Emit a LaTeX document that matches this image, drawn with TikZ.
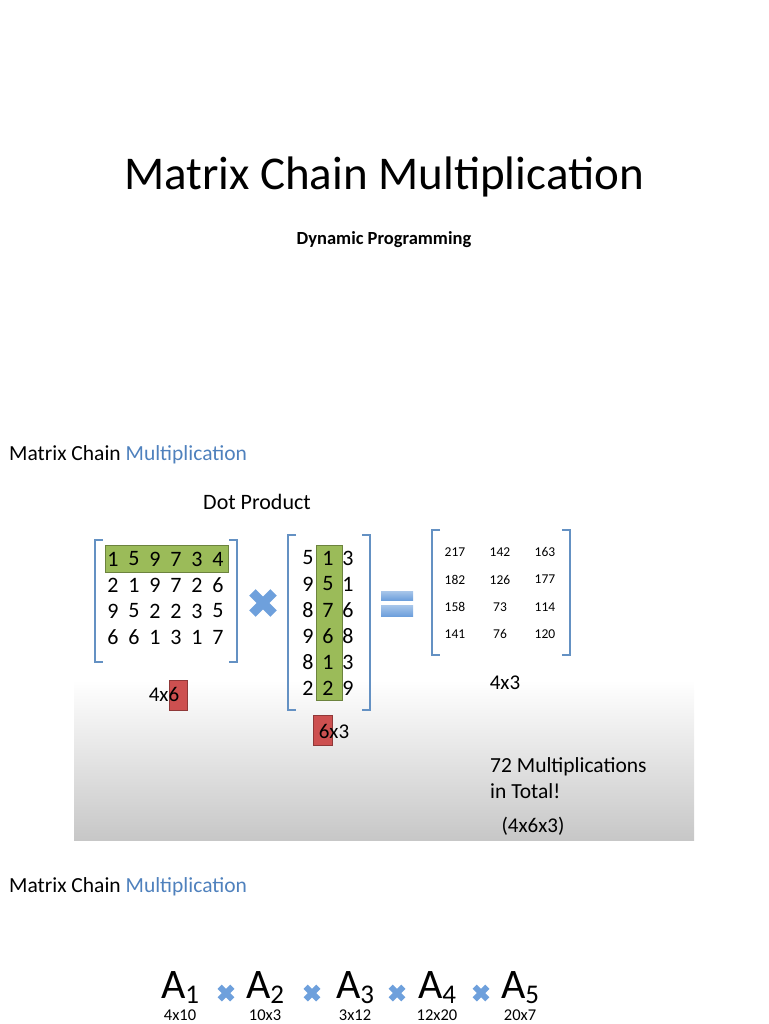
\documentclass[tikz,border=0pt]{standalone}
\usepackage{fontspec}
\setmainfont{Carlito}
\usepackage{tikz}
\definecolor{hdrblue}{RGB}{79,129,189}
\definecolor{brk}{RGB}{100,145,195}
\definecolor{grn}{RGB}{155,187,89}
\definecolor{rd}{RGB}{205,80,80}
\definecolor{xblue}{RGB}{110,160,220}
\tikzset{
  num/.style={font=\fontsize{22}{22}\selectfont,inner sep=0},
  small/.style={font=\fontsize{13.5}{13.5}\selectfont,inner sep=0},
  lbl/.style={font=\fontsize{21}{21}\selectfont,inner sep=0},
  hdr/.style={anchor=west,font=\fontsize{21.5}{21.5}\selectfont,inner sep=0},
  brack/.style={brk,line width=2.2pt},
  hl/.style={fill=grn,draw=grn!70!black,line width=.4pt},
  redbox/.style={fill=rd,draw=rd!70!black,line width=.4pt},
}
\begin{document}
\begin{tikzpicture}[x=1pt,y=-1pt]
\useasboundingbox (0,0) rectangle (768,1024);
% title
\node[font=\fontsize{47}{47}\selectfont] (title) at (384,177) {Matrix Chain Multiplication};
\node[font=\bfseries\fontsize{18.5}{18.5}\selectfont] (sub) at (384,240) {Dynamic Programming};
% header 1
\node[hdr] (hdr1) at (9,455) {Matrix Chain \textcolor{hdrblue}{Multiplication}};
% panel
\shade[top color=white,bottom color=black!22] (74,680) rectangle (694,840);
\node[font=\fontsize{22}{22}\selectfont] (dot) at (257,502) {Dot Product};
% left matrix
\draw[hl] (105,545) rectangle (228,572);
\draw[brack] (103,540) -- (95,540) -- (95,662) -- (103,662);
\draw[brack] (229,540) -- (237,540) -- (237,662) -- (229,662);
\foreach \row [count=\r] in {{1,5,9,7,3,4},{2,1,9,7,2,6},{9,5,2,2,3,5},{6,6,1,3,1,7}}
  \foreach \v [count=\c] in \row
    \node[num] (a\r\c) at (92+21*\c,533+26*\r) {\v};
\draw[redbox] (169,680) rectangle (187,710);
\node[lbl] (dimA) at (164,694) {4x6};
% cross
\foreach \a in {45,135}
  \draw[xblue,line width=9pt,rotate around={\a:(263,603)}] (248,603) -- (278,603);
% middle matrix
\draw[hl] (316,545) rectangle (342,700);
\draw[brack] (296,535) -- (288,535) -- (288,710) -- (296,710);
\draw[brack] (362,535) -- (370,535) -- (370,710) -- (362,710);
\foreach \row [count=\r] in {{5,1,3},{9,5,1},{8,7,6},{9,6,8},{8,1,3},{2,2,9}}
  \foreach \v [count=\c] in \row
    \node[num] (b\r\c) at (288+20*\c,532+26*\r) {\v};
\draw[redbox] (313,715) rectangle (332,745);
\node[lbl] (dimB) at (334,731) {6x3};
% equals
\shade[top color=xblue!60,bottom color=xblue] (381,591) rectangle (413,600);
\shade[top color=xblue!60,bottom color=xblue] (381,605) rectangle (413,616);
% right matrix
\draw[brack] (440,530) -- (432,530) -- (432,655) -- (440,655);
\draw[brack] (562,530) -- (570,530) -- (570,655) -- (562,655);
\foreach \row [count=\r] in {{217,142,163},{182,126,177},{158,73,114},{141,76,120}}
  \foreach \v [count=\c] in \row
    \node[small] (c\r\c) at (410+45*\c,525+27.3*\r) {\v};
\node[lbl] (dimC) at (505,683) {4x3};
% totals
\node[anchor=west,align=left,font=\fontsize{21.5}{26}\selectfont,inner sep=0] (total) at (490,778) {72 Multiplications\\in Total!};
\node[lbl] (prod) at (533,826) {(4x6x3)};
% header 2
\node[hdr] (hdr2) at (9,887) {Matrix Chain \textcolor{hdrblue}{Multiplication}};
% chain
\foreach \i/\x/\d in {1/180/4x10,2/265/10x3,3/355/3x12,4/437/12x20,5/520/20x7}{
  \node[font=\fontsize{42}{42}\selectfont,inner sep=0,anchor=base] (m\i) at (\x,998) {A\raisebox{-5pt}{\fontsize{27}{27}\selectfont\i}};
  \node[font=\fontsize{16.5}{16.5}\selectfont,inner sep=0,anchor=base] (d\i) at (\x,1020) {\d};
}
\foreach \x in {226,312,397,481}
  \foreach \a in {45,135}
    \draw[xblue,line width=6pt,rotate around={\a:(\x,993)}] (\x-9,993) -- (\x+9,993);
\end{tikzpicture}
\end{document}
